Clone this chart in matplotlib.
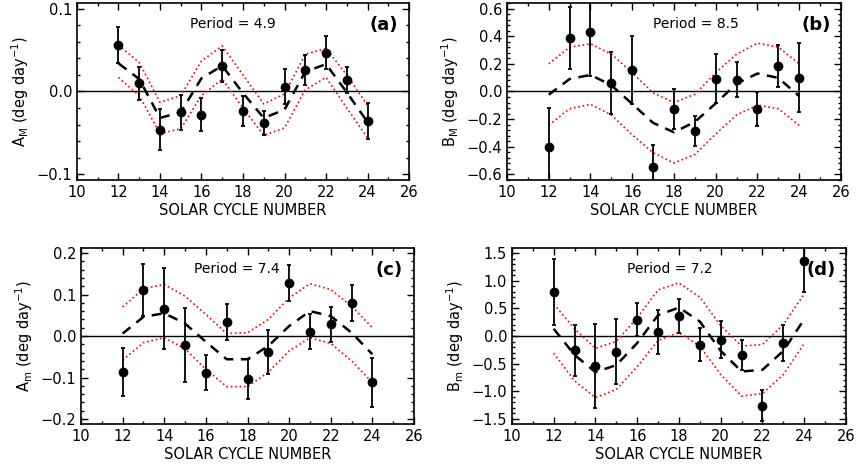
import matplotlib
matplotlib.use("Agg")
import matplotlib.pyplot as plt
from matplotlib.ticker import MultipleLocator

plt.rcParams['font.family'] = ['DejaVu Sans']
plt.rcParams['mathtext.default'] = 'regular'

cycles = [12, 13, 14, 15, 16, 17, 18, 19, 20, 21, 22, 23, 24]

# panel (a): A_M
a_val = [0.056, 0.010, -0.046, -0.025, -0.028, 0.031, -0.024, -0.038, 0.006, 0.026, 0.047, 0.014, -0.036]
a_err = [0.022, 0.020, 0.025, 0.021, 0.020, 0.019, 0.018, 0.015, 0.021, 0.018, 0.020, 0.016, 0.022]
a_fit = [0.034, 0.015, -0.032, -0.025, 0.016, 0.031, -0.002, -0.032, -0.022, 0.024, 0.033, -0.001, -0.037]
a_up = [0.056, 0.035, -0.013, -0.005, 0.037, 0.055, 0.020, -0.015, -0.003, 0.045, 0.052, 0.020, -0.017]
a_lo = [0.017, -0.005, -0.051, -0.045, -0.005, 0.015, -0.020, -0.053, -0.044, 0.002, 0.017, -0.020, -0.056]

# panel (b): B_M
b_val = [-0.402, 0.386, 0.427, 0.061, 0.157, -0.545, -0.125, -0.286, 0.093, 0.086, -0.127, 0.186, 0.100]
b_err = [0.280, 0.227, 0.318, 0.222, 0.245, 0.160, 0.144, 0.106, 0.178, 0.126, 0.126, 0.150, 0.250]
b_fit = [-0.023, 0.090, 0.120, 0.045, -0.090, -0.227, -0.295, -0.220, -0.086, 0.057, 0.130, 0.098, -0.034]
b_up = [0.200, 0.320, 0.345, 0.270, 0.136, -0.010, -0.080, -0.020, 0.136, 0.270, 0.350, 0.320, 0.200]
b_lo = [-0.243, -0.125, -0.093, -0.170, -0.314, -0.443, -0.518, -0.455, -0.307, -0.170, -0.098, -0.125, -0.245]

# panel (c): A_m
c_val = [-0.087, 0.111, 0.066, -0.022, -0.088, 0.034, -0.103, -0.039, 0.127, 0.010, 0.028, 0.080, -0.112]
c_err = [0.057, 0.063, 0.097, 0.090, 0.043, 0.044, 0.048, 0.053, 0.043, 0.042, 0.043, 0.043, 0.060]
c_fit = [0.006, 0.046, 0.055, 0.030, -0.014, -0.056, -0.056, -0.024, 0.024, 0.060, 0.048, 0.008, -0.044]
c_up = [0.070, 0.114, 0.124, 0.096, 0.052, 0.006, 0.008, 0.040, 0.092, 0.126, 0.112, 0.072, 0.020]
c_lo = [-0.058, -0.016, -0.004, -0.031, -0.080, -0.122, -0.122, -0.087, -0.036, -0.004, -0.018, -0.060, -0.112]

# panel (d): B_m
d_val = [0.80, -0.257, -0.543, -0.280, 0.297, 0.069, 0.366, -0.154, -0.063, -0.337, -1.257, -0.126, 1.35]
d_err = [0.60, 0.46, 0.76, 0.58, 0.30, 0.40, 0.31, 0.30, 0.34, 0.27, 0.28, 0.33, 0.55]
d_fit = [0.131, -0.343, -0.651, -0.526, -0.126, 0.377, 0.514, 0.263, -0.269, -0.640, -0.611, -0.269, 0.303]
d_up = [0.577, 0.131, -0.223, -0.097, 0.331, 0.834, 0.960, 0.703, 0.189, -0.183, -0.154, 0.206, 0.760]
d_lo = [-0.309, -0.811, -1.114, -0.966, -0.554, -0.080, 0.063, -0.183, -0.697, -1.086, -1.040, -0.697, -0.137]

panels = [
    ("A$_{M}$ (deg day$^{-1}$)", "Period = 4.9", "(a)", a_val, a_err, a_fit, a_up, a_lo,
     (-0.107, 0.107), 0.1, 0.02, [0.0898, 0.6195, 0.3875, 0.3742], 17.5),
    ("B$_{M}$ (deg day$^{-1}$)", "Period = 8.5", "(b)", b_val, b_err, b_fit, b_up, b_lo,
     (-0.64, 0.64), 0.2, 0.04, [0.5916, 0.6195, 0.3897, 0.3742], 19.05),
    ("A$_{m}$ (deg day$^{-1}$)", "Period = 7.4", "(c)", c_val, c_err, c_fit, c_up, c_lo,
     (-0.212, 0.212), 0.1, 0.02, [0.0945, 0.1036, 0.3886, 0.372], 17.5),
    ("B$_{m}$ (deg day$^{-1}$)", "Period = 7.2", "(d)", d_val, d_err, d_fit, d_up, d_lo,
     (-1.59, 1.59), 0.5, 0.1, [0.5974, 0.1036, 0.3897, 0.372], 17.57),
]

fig = plt.figure(figsize=(8.57, 4.73), dpi=100)

for ylab, ptxt, tag, val, err, fit, up, lo, ylim, major, minor, pos, px in panels:
    ax = fig.add_axes(pos)
    ax.axhline(0, color='black', lw=1.0, zorder=1)
    ax.plot(cycles, up, color='red', lw=1.2, ls=':', zorder=2)
    ax.plot(cycles, lo, color='red', lw=1.2, ls=':', zorder=2)
    ax.plot(cycles, fit, color='black', lw=1.8, dashes=(4, 3), zorder=3)
    ax.errorbar(cycles, val, yerr=err, fmt='o', color='black', ms=6,
                ecolor='black', elinewidth=1.3, capsize=1.5, capthick=1.3, zorder=4)
    ax.set_xlim(10, 26)
    ax.set_ylim(*ylim)
    ax.xaxis.set_major_locator(MultipleLocator(2))
    ax.xaxis.set_minor_locator(MultipleLocator(1))
    ax.yaxis.set_major_locator(MultipleLocator(major))
    ax.yaxis.set_minor_locator(MultipleLocator(minor))
    ax.tick_params(which='both', direction='in', top=True, right=True, labelsize=10.5)
    ax.tick_params(which='major', length=5, width=1)
    ax.tick_params(which='minor', length=2.5, width=1)
    ax.yaxis.set_major_formatter(matplotlib.ticker.FuncFormatter(
        lambda v, p: (f"{v:.1f}" if abs(v) > 1e-9 else "0.0").replace('-', '\u2212')))
    for s in ax.spines.values():
        s.set_linewidth(1.2)
    ax.set_xlabel("SOLAR CYCLE NUMBER", fontsize=10.5, labelpad=2)
    ax.set_ylabel(ylab, fontsize=10.5, labelpad=4)
    ax.text(px, ylim[1] * 0.76, ptxt, ha='center', va='center', fontsize=10)
    ax.text(0.925, 0.875, tag, transform=ax.transAxes, ha='center', va='center',
            fontsize=13, fontweight='bold')

fig.savefig("out.png", dpi=100)
